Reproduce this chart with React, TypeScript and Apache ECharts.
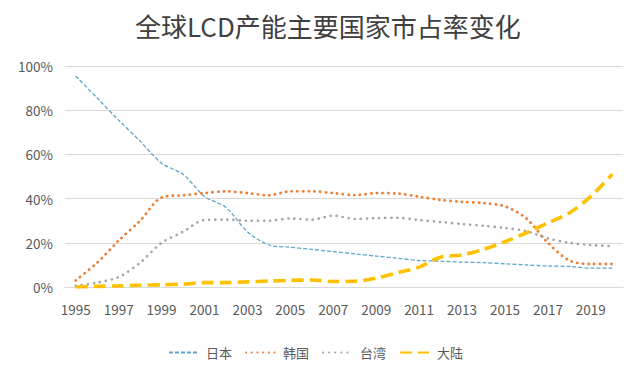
import React, { useEffect, useRef } from "react";
import * as echarts from "echarts";

const years = [
  "1995", "1996", "1997", "1998", "1999", "2000", "2001", "2002", "2003", "2004",
  "2005", "2006", "2007", "2008", "2009", "2010", "2011", "2012", "2013", "2014",
  "2015", "2016", "2017", "2018", "2019", "2020",
];
const japan = [95.5, 85.5, 75.5, 66, 56, 51, 41, 36, 25, 19, 18, 17, 16, 15, 14, 13, 12, 11.7, 11.3, 11, 10.5, 10, 9.5, 9.3, 8.5, 8.5];
const korea = [3, 11, 21, 30, 40.5, 41.5, 42.5, 43.3, 42.5, 41.5, 43.3, 43.3, 42.5, 41.6, 42.5, 42.3, 40.9, 39.4, 38.5, 38, 36.5, 31, 20, 12, 10.4, 10.4];
const taiwan = [0.5, 2, 4.5, 11, 20, 25, 30.3, 30.5, 30, 30, 31, 30.5, 32.3, 30.8, 31.2, 31.3, 30.3, 29.4, 28.5, 27.7, 26.7, 25.3, 22, 20, 19, 18.5];
const mainland = [0, 0.3, 0.5, 0.8, 1, 1.3, 2, 2, 2.3, 2.7, 3, 3.2, 2.5, 2.6, 4, 6.5, 9, 13.5, 14.5, 17, 20.5, 24.5, 29, 33.5, 41, 51];

const names = ["日本", "韩国", "台湾", "大陆"];
const colors = ["#5ea8c8", "#ED7D31", "#A5A5A5", "#FFC000"];

export default function App() {
  const ref = useRef<HTMLDivElement>(null);
  useEffect(() => {
    if (!ref.current) return;
    const chart = echarts.init(ref.current, null, { renderer: "svg" });
    const font = "'Noto Sans CJK SC', 'Noto Sans', sans-serif";
    chart.setOption({
      animation: false,
      backgroundColor: "#ffffff",
      title: {
        text: "全球LCD产能主要国家市占率变化",
        left: 130,
        top: 7,
        textStyle: { fontFamily: font, fontSize: 26, fontWeight: "normal", color: "#404040" },
      },
      legend: {
        data: names,
        bottom: 17,
        left: 163,
        itemWidth: 29,
        itemHeight: 10,
        itemGap: 13,
        itemStyle: { opacity: 0 },
        textStyle: { fontFamily: font, fontSize: 13, color: "#595959", padding: [0, 0, 0, 3] },
      },
      grid: { left: 65, right: 8, top: 66, bottom: 94, containLabel: false },
      xAxis: {
        type: "category",
        data: years,
        boundaryGap: true,
        axisLine: { show: true, lineStyle: { color: "#d9d9d9" } },
        axisTick: { show: false },
        axisLabel: { interval: 1, margin: 15, fontFamily: font, fontSize: 13.5, color: "#595959" },
      },
      yAxis: {
        type: "value",
        min: 0,
        max: 100,
        interval: 20,
        axisLine: { show: false },
        axisTick: { show: false },
        splitLine: { lineStyle: { color: "#d9d9d9" } },
        axisLabel: { formatter: "{value}%", margin: 12, fontFamily: font, fontSize: 13.5, color: "#595959" },
      },
      series: [
        {
          name: names[0], type: "line", data: japan, smooth: 0.3, symbol: "none",
          lineStyle: { color: colors[0], width: 1.3, type: [4, 2] }, itemStyle: { color: colors[0] },
        },
        {
          name: names[1], type: "line", data: korea, smooth: 0.3, symbol: "none",
          lineStyle: { color: colors[1], width: 2.8, type: [0.1, 5.6], cap: "round" }, itemStyle: { color: colors[1] },
        },
        {
          name: names[2], type: "line", data: taiwan, smooth: 0.3, symbol: "none",
          lineStyle: { color: colors[2], width: 2.6, type: [0.1, 6], cap: "round" }, itemStyle: { color: colors[2] },
        },
        {
          name: names[3], type: "line", data: mainland, smooth: 0.3, symbol: "none",
          lineStyle: { color: colors[3], width: 3.6, type: [12, 6] }, itemStyle: { color: colors[3] },
        },
      ],
    });
    return () => chart.dispose();
  }, []);
  return <div ref={ref} style={{ width: 631, height: 381, position: "absolute", left: 0, top: 0 }} />;
}
